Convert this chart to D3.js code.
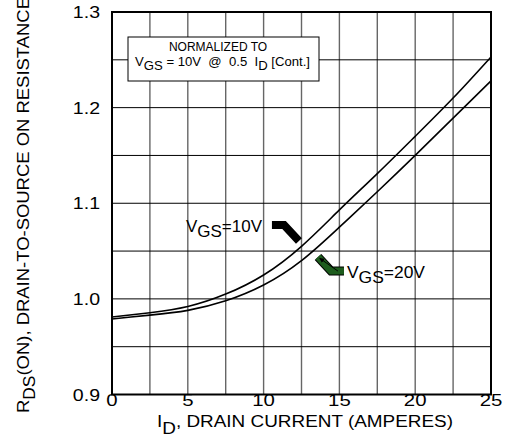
<!DOCTYPE html>
<html>
<head>
<meta charset="utf-8">
<script src="https://cdn.jsdelivr.net/npm/d3@7"></script>
<style>
  body { margin: 0; background: #fff; }
  svg text { font-family: "Liberation Sans", Arial, Helvetica, sans-serif; fill: #000; white-space: pre; }
</style>
</head>
<body>
<div id="chart"></div>
<script>
// drain current (A) and normalized on-resistance
const currents = [0, 2.5, 5, 7.5, 10, 12.5, 15, 17.5, 20, 22.5, 25];
const rdsVgs10 = [0.981, 0.9855, 0.992, 1.005, 1.025, 1.055, 1.093, 1.131, 1.170, 1.210, 1.253];
const rdsVgs20 = [0.979, 0.983, 0.988, 0.998, 1.0145, 1.040, 1.075, 1.112, 1.150, 1.189, 1.228];
const xTicks = [0, 5, 10, 15, 20, 25];
const yTicks = [0.9, 1.0, 1.1, 1.2, 1.3];

const width = 506, height = 440;
const margin = { top: 12, right: 15, bottom: 45.5, left: 112 };

const svg = d3.select("#chart").append("svg")
    .attr("width", width)
    .attr("height", height);

const x = d3.scaleLinear().domain([0, 25]).range([margin.left, width - margin.right]);
const y = d3.scaleLinear().domain([0.9, 1.3]).range([height - margin.bottom, margin.top]);

// grid: vertical every 2.5 A (grey), horizontal every 0.05 (black)
svg.append("g").selectAll("line")
    .data(d3.range(1, 10).map(i => i * 2.5))
    .enter().append("line")
    .attr("x1", d => x(d)).attr("x2", d => x(d))
    .attr("y1", y(0.9)).attr("y2", y(1.3))
    .attr("stroke", "#666")
    .attr("stroke-width", 1.4);

svg.append("g").selectAll("line")
    .data(d3.range(1, 8).map(i => 0.9 + i * 0.05))
    .enter().append("line")
    .attr("x1", x(0)).attr("x2", x(25))
    .attr("y1", d => y(d)).attr("y2", d => y(d))
    .attr("stroke", "#000")
    .attr("stroke-width", 1);

// frame
svg.append("rect")
    .attr("x", x(0)).attr("y", y(1.3))
    .attr("width", x(25) - x(0))
    .attr("height", y(0.9) - y(1.3))
    .attr("fill", "none")
    .attr("stroke", "#000")
    .attr("stroke-width", 2);

// curves
const line = d3.line()
    .x((d, i) => x(currents[i]))
    .y(d => y(d))
    .curve(d3.curveNatural);

[rdsVgs10, rdsVgs20].forEach(series => {
    svg.append("path")
        .attr("d", line(series))
        .attr("fill", "none")
        .attr("stroke", "#000")
        .attr("stroke-width", 1.6);
});

// tick labels (the source font is wider than Arial, hence the stretch)
svg.append("g").selectAll("text")
    .data(xTicks)
    .enter().append("text")
    .attr("transform", d => `translate(${x(d)},406) scale(1.2,1)`)
    .attr("text-anchor", "middle")
    .style("font-size", "17px")
    .text(d => d);

svg.append("g").selectAll("text")
    .data(yTicks)
    .enter().append("text")
    .attr("transform", d => `translate(100,${y(d) + 6}) scale(1.15,1)`)
    .attr("text-anchor", "end")
    .style("font-size", "17px")
    .text(d => d.toFixed(1));

// text with subscripts: parts = [[text, isSub], ...]
function subText(el, parts, size, subSize, shift) {
    let cur = 0;
    parts.forEach(([t, sub]) => {
        const target = sub ? shift : 0;
        el.append("tspan")
            .attr("dy", target - cur)
            .style("font-size", (sub ? subSize : size) + "px")
            .text(t);
        cur = target;
    });
}

// x axis title
const xTitle = svg.append("text")
    .attr("x", 157)
    .attr("y", 427)
    .attr("textLength", 296)
    .attr("lengthAdjust", "spacingAndGlyphs");
subText(xTitle, [["I", false], ["D", true], [", DRAIN CURRENT (AMPERES)", false]], 16, 16, 7);

// y axis title
const yTitle = svg.append("text")
    .attr("transform", "translate(28.5,413) rotate(-90)")
    .attr("textLength", 416)
    .attr("lengthAdjust", "spacingAndGlyphs");
subText(yTitle, [["R", false], ["DS", true], ["(ON), DRAIN-TO-SOURCE ON RESISTANCE", false]], 17, 16, 6);

// normalization box
svg.append("rect")
    .attr("x", 128).attr("y", 37)
    .attr("width", 191).attr("height", 44)
    .attr("fill", "#fff")
    .attr("stroke", "#000")
    .attr("stroke-width", 1);

svg.append("text")
    .attr("x", 218).attr("y", 51)
    .attr("text-anchor", "middle")
    .style("font-size", "12px")
    .text("NORMALIZED TO");

const boxLine = svg.append("text")
    .attr("x", 135).attr("y", 66)
    .attr("textLength", 175)
    .attr("lengthAdjust", "spacingAndGlyphs");
subText(boxLine, [["V", false], ["GS", true], [" = 10V  @  0.5  I", false], ["D", true], [" [Cont.]", false]], 12, 12, 4);

// VGS = 10V label with black pointer
const lab10 = svg.append("text")
    .attr("x", 186).attr("y", 232)
    .attr("textLength", 76)
    .attr("lengthAdjust", "spacingAndGlyphs");
subText(lab10, [["V", false], ["GS", true], ["=10V", false]], 17, 17, 5);

svg.append("path")
    .attr("d", `M${x(10.55)},${y(1.0773)} L${x(11.35)},${y(1.0773)} L${x(12.33)},${y(1.0605)}`)
    .attr("fill", "none")
    .attr("stroke", "#000")
    .attr("stroke-width", 8)
    .attr("stroke-linejoin", "miter");

// VGS = 20V label with green pointer
const lab20 = svg.append("text")
    .attr("x", 347).attr("y", 278)
    .attr("textLength", 78)
    .attr("lengthAdjust", "spacingAndGlyphs");
subText(lab20, [["V", false], ["GS", true], ["=20V", false]], 17, 17, 5);

const greenPath = `M${x(13.59)},${y(1.0438)} L${x(14.45)},${y(1.0291)} L${x(15.3)},${y(1.0291)}`;
svg.append("path")
    .attr("d", greenPath)
    .attr("fill", "none")
    .attr("stroke", "#000")
    .attr("stroke-width", 9);
svg.append("path")
    .attr("d", greenPath)
    .attr("fill", "none")
    .attr("stroke", "#1d5c1d")
    .attr("stroke-width", 7);

svg.append("defs").append("marker")
    .attr("id", "ah")
    .attr("viewBox", "0 0 10 10")
    .attr("refX", 9).attr("refY", 5)
    .attr("markerWidth", 5).attr("markerHeight", 5)
    .attr("orient", "auto")
    .append("path")
    .attr("d", "M0,0 L10,5 L0,10 Z")
    .attr("fill", "#000");

svg.append("line")
    .attr("x1", x(14.9)).attr("y1", y(1.0291))
    .attr("x2", x(13.7)).attr("y2", y(1.0425))
    .attr("stroke", "#000")
    .attr("stroke-width", 1)
    .attr("marker-end", "url(#ah)");
</script>
</body>
</html>
